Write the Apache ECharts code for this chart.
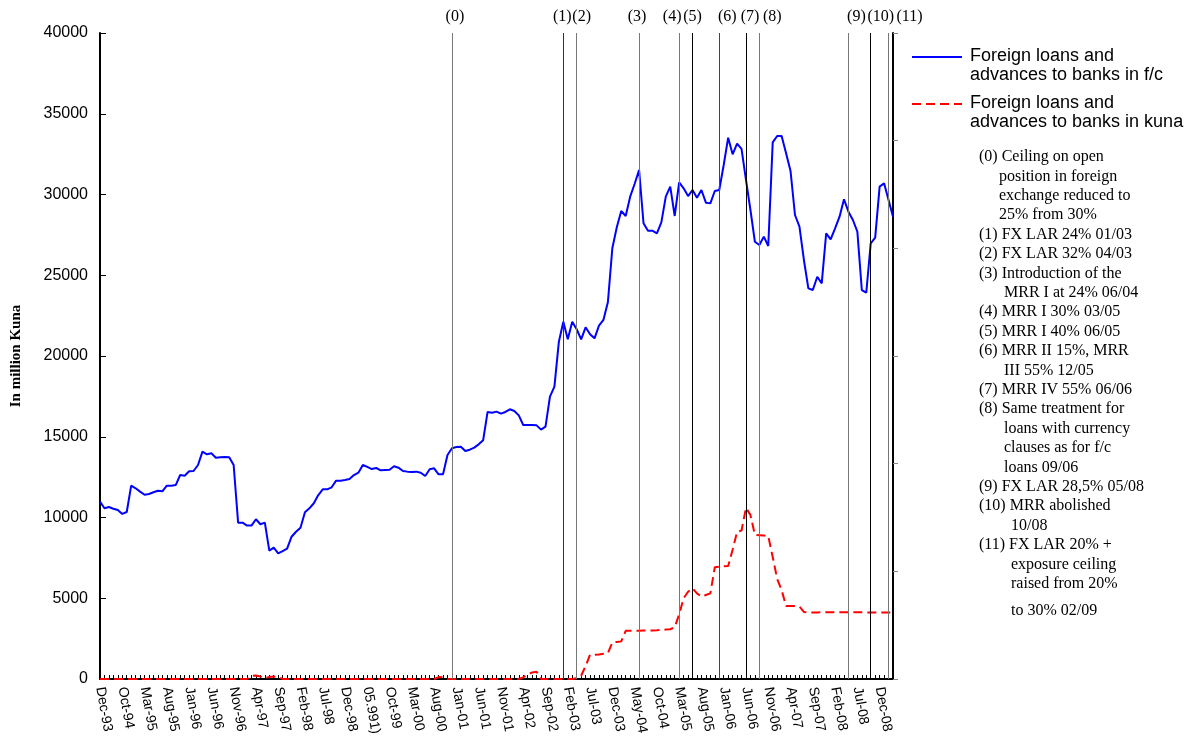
<!DOCTYPE html>
<html>
<head>
<meta charset="utf-8">
<title>Foreign loans and advances to banks</title>
<script src="https://cdn.jsdelivr.net/npm/echarts@6/dist/echarts.min.js"></script>
<style>
  html, body { margin: 0; padding: 0; background: #fff; }
  #chart { width: 1191px; height: 738px; }
</style>
</head>
<body>
<div id="chart"></div>
<script>
// Foreign loans and advances to banks (in million kuna), Dec-93, then monthly Jun-94 .. Mar-09

// Month names used to build the category axis
const monthNames = ['Jan', 'Feb', 'Mar', 'Apr', 'May', 'Jun', 'Jul', 'Aug', 'Sep', 'Oct', 'Nov', 'Dec'];

// Loans and advances in foreign currency
const fcValues = [
    10980, 10570, 10650, 10545, 10465, 10220, 10340, 11970, 11810, 11600,
    11410, 11455, 11560, 11660, 11620, 11970, 11970, 12010, 12630, 12590,
    12860, 12880, 13250, 14075, 13915, 13975, 13700, 13730, 13745, 13730,
    13250, 9680, 9680, 9500, 9500, 9890, 9580, 9680, 7945, 8130,
    7780, 7925, 8070, 8810, 9120, 9370, 10320, 10570, 10880, 11390,
    11745, 11745, 11870, 12280, 12280, 12320, 12385, 12630, 12775, 13250,
    13130, 13000, 13065, 12920, 12940, 12960, 13170, 13085, 12880, 12840,
    12820, 12840, 12775, 12570, 12985, 13045, 12675, 12675, 13870, 14285,
    14365, 14385, 14120, 14200, 14325, 14530, 14780, 16535, 16490, 16555,
    16430, 16535, 16700, 16595, 16325, 15730, 15730, 15730, 15705, 15440,
    15625, 17480, 18100, 20885, 22125, 21035, 22125, 21655, 21035, 21775,
    21345, 21095, 21880, 22230, 23325, 26670, 27970, 28980, 28670, 29865,
    30650, 31520, 28220, 27760, 27760, 27595, 28275, 29865, 30485, 28670,
    30755, 30385, 29905, 30280, 29805, 30280, 29495, 29450, 30215, 30280,
    31825, 33520, 32490, 33145, 32820, 30900, 29040, 27075, 26875, 27390,
    26810, 33230, 33620, 33620, 32550, 31455, 28730, 28005, 25945, 24190,
    24085, 24910, 24500, 27595, 27225, 27905, 28625, 29700, 28935, 28420,
    27700, 24085, 23920, 26980, 27325, 30485, 30690, 29660, 28625
];

// Loans and advances in kuna
const kunaValues = [
    0, 0, 0, 0, 0, 0, 0, 0, 0, 0,
    0, 0, 0, 0, 0, 0, 0, 0, 0, 0,
    0, 0, 0, 0, 0, 0, 0, 0, 0, 0,
    0, 0, 0, 0, 200, 220, 150, 50, 120, 150,
    120, 0, 0, 0, 0, 0, 0, 0, 0, 0,
    0, 0, 0, 0, 0, 0, 0, 0, 0, 0,
    0, 0, 0, 0, 0, 0, 0, 0, 0, 0,
    0, 0, 0, 0, 0, 0, 120, 100, 0, 0,
    0, 0, 0, 0, 0, 0, 0, 0, 0, 0,
    0, 0, 0, 0, 0, 100, 300, 400, 450, 0,
    0, 0, 0, 0, 0, 0, 0, 50, 200, 800,
    1500, 1500, 1520, 1560, 1600, 2270, 2290, 2330, 2980, 2990,
    2990, 2990, 3000, 3000, 3010, 3020, 3040, 3060, 3080, 3200,
    4000, 5000, 5400, 5620, 5300, 5100, 5200, 5300, 6920, 6950,
    6980, 7000, 8000, 9120, 9190, 10600, 10150, 8920, 8900, 8880,
    8850, 7550, 6200, 5500, 4520, 4520, 4520, 4480, 4150, 4120,
    4120, 4120, 4130, 4130, 4130, 4130, 4140, 4140, 4140, 4130,
    4130, 4130, 4120, 4120, 4120, 4120, 4120, 4120, 4120
];

// Policy measures: index on the category axis, tag, line colour, tag shift (px)
const eventIndex = [79, 104, 107, 121, 130, 133, 139, 145, 148, 168, 173, 177];
const eventTags = ['(0)', '(1)', '(2)', '(3)', '(4)', '(5)', '(6)', '(7)', '(8)', '(9)', '(10)', '(11)'];
const eventColors = ['#777', '#333', '#777', '#777', '#777', '#000', '#444', '#000', '#777', '#777', '#000', '#777'];
const eventTagShift = [3, -1, 5, -2, -7, 0, 8, 4, 13, 8, 10, 21];

// Notes at the right: text and indent level
const notes = [
    ['(0) Ceiling on open', 0],
    ['position in foreign', 1],
    ['exchange reduced to', 1],
    ['25% from 30%', 1],
    ['(1) FX LAR 24% 01/03', 0],
    ['(2) FX LAR 32% 04/03', 0],
    ['(3) Introduction of the', 0],
    ['MRR I at 24% 06/04', 2],
    ['(4) MRR I 30% 03/05', 0],
    ['(5) MRR I 40% 06/05', 0],
    ['(6) MRR II 15%, MRR', 0],
    ['III 55% 12/05', 2],
    ['(7) MRR IV 55% 06/06', 0],
    ['(8) Same treatment for', 0],
    ['loans with currency', 2],
    ['clauses as for f/c', 2],
    ['loans 09/06', 2],
    ['(9) FX LAR 28,5% 05/08', 0],
    ['(10) MRR abolished', 0],
    ['10/08', 3],
    ['(11) FX LAR 20% +', 0],
    ['exposure ceiling', 3],
    ['raised from 20%', 3],
    ['to 30% 02/09', 3]
];

// Category labels: Dec-93, then every month from Jun-94
const categories = ['Dec-93'];
for (let i = 1; i < fcValues.length; i++) {
    const m = 5 + (i - 1);
    const yr = 94 + Math.floor(m / 12);
    categories.push(monthNames[m % 12] + '-' + String(yr % 100).padStart(2, '0'));
}
categories[60] = '05.991)';

function initChart() {
    const chart = echarts.init(document.getElementById('chart'));
    const sans = 'Liberation Sans, Arial, sans-serif';
    const serif = 'Liberation Serif, Times New Roman, serif';

    const indentX = [979, 999, 1004, 1011];
    const noteTexts = notes.map((n, k) => ({
        type: 'text',
        left: indentX[n[1]],
        top: (k === notes.length - 1 ? 603 : 149 + k * 19.4),
        style: { text: n[0], font: '16px ' + serif, fill: '#000' }
    }));

    const legendItems = [
        { type: 'line', shape: { x1: 912, y1: 57, x2: 962, y2: 57 }, style: { stroke: '#0000FF', lineWidth: 2 } },
        { type: 'text', left: 970, top: 47, style: { text: 'Foreign loans and\nadvances to banks in f/c', font: '18px ' + sans, lineHeight: 19, fill: '#000' } },
        { type: 'line', shape: { x1: 912, y1: 104, x2: 962, y2: 104 }, style: { stroke: '#FF0000', lineWidth: 2, lineDash: [9, 5] } },
        { type: 'text', left: 970, top: 94, style: { text: 'Foreign loans and\nadvances to banks in kuna', font: '18px ' + sans, lineHeight: 19, fill: '#000' } }
    ];

    const option = {
        animation: false,
        backgroundColor: '#fff',
        grid: { left: 100, right: 298, top: 33, bottom: 59, containLabel: false },
        xAxis: {
            type: 'category',
            data: categories,
            boundaryGap: false,
            axisLine: { lineStyle: { color: '#000', width: 2 } },
            axisTick: { show: true, inside: true, length: 4, interval: 0, lineStyle: { color: '#000' } },
            axisLabel: {
                interval: 4,
                rotate: -80,
                margin: 8,
                color: '#000',
                fontSize: 14,
                fontFamily: sans
            },
            splitLine: { show: false }
        },
        yAxis: [{
            type: 'value',
            min: 0,
            max: 40000,
            interval: 5000,
            name: 'In million Kuna',
            nameLocation: 'middle',
            nameGap: 76,
            nameTextStyle: { fontFamily: serif, fontWeight: 'bold', fontSize: 15, color: '#000' },
            axisLine: { show: true, lineStyle: { color: '#000', width: 2 } },
            axisTick: { show: true, inside: true, length: 6, lineStyle: { color: '#000' } },
            axisLabel: { color: '#000', fontSize: 16, fontFamily: sans, margin: 12, formatter: v => String(v) },
            splitLine: { show: false }
        }, {
            type: 'value',
            position: 'right',
            min: 0,
            max: 6,
            interval: 1,
            axisLine: { show: true, lineStyle: { color: '#000', width: 2 } },
            axisTick: { show: true, length: 5, lineStyle: { color: '#888' } },
            axisLabel: { show: false },
            splitLine: { show: false }
        }],
        series: [{
            name: 'Foreign loans and advances to banks in f/c',
            type: 'line',
            data: fcValues,
            showSymbol: false,
            symbol: 'none',
            lineStyle: { color: '#0000FF', width: 2 },
            z: 3,
            markLine: {
                silent: true,
                symbol: ['none', 'none'],
                animation: false,
                data: eventIndex.map((idx, k) => ({
                    xAxis: categories[idx],
                    lineStyle: { color: eventColors[k], width: 1, type: 'solid' },
                    label: {
                        show: true,
                        position: 'end',
                        distance: 8,
                        formatter: eventTags[k],
                        offset: [eventTagShift[k], 0],
                        color: '#000',
                        fontSize: 16,
                        fontFamily: serif
                    }
                }))
            }
        }, {
            name: 'Foreign loans and advances to banks in kuna',
            type: 'line',
            data: kunaValues,
            showSymbol: false,
            symbol: 'none',
            lineStyle: { color: '#FF0000', width: 2, type: [9, 5] },
            z: 4
        }],
        graphic: legendItems.concat(noteTexts)
    };

    chart.setOption(option);
    return chart;
}

initChart();
</script>
</body>
</html>
